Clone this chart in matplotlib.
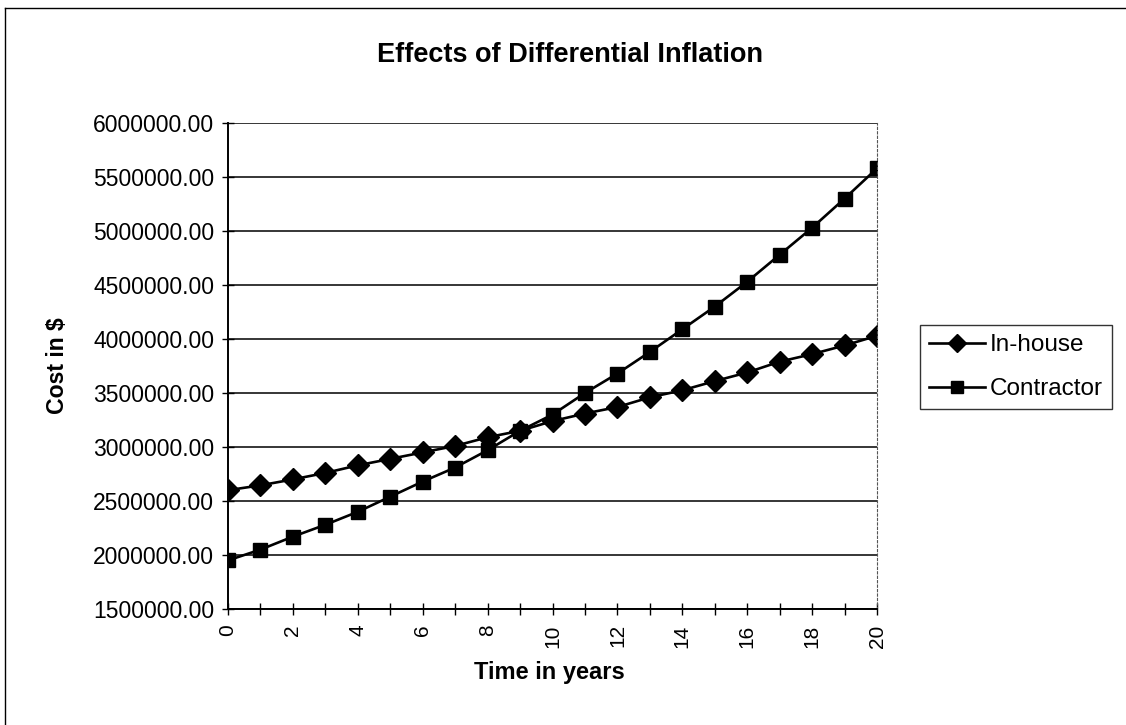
import matplotlib
matplotlib.use("Agg")
import matplotlib.pyplot as plt
from matplotlib.lines import Line2D
from matplotlib.ticker import MultipleLocator, FuncFormatter

years = list(range(0, 21))
in_house = [2600000, 2645000, 2700000, 2760000, 2830000, 2890000, 2950000, 3010000,
            3090000, 3150000, 3240000, 3310000, 3370000, 3460000, 3525000, 3610000,
            3690000, 3790000, 3860000, 3940000, 4030000]
contractor = [1950000, 2050000, 2170000, 2280000, 2400000, 2540000, 2680000, 2810000,
              2970000, 3150000, 3300000, 3500000, 3680000, 3880000, 4090000, 4300000,
              4530000, 4780000, 5030000, 5300000, 5580000]
series_names = ["In-house", "Contractor"]
title = "Effects of Differential Inflation"
xlabel = "Time in years"
ylabel = "Cost in $"

plt.rcParams['font.family'] = ['Liberation Sans', 'DejaVu Sans']

fig = plt.figure(figsize=(11.26, 7.25), dpi=100)
ax = fig.add_axes([228/1126, 1-609/725, (877-228)/1126, (609-123)/725])

ax.plot(years, in_house, color='black', lw=1.9, marker='D', markersize=11, label=series_names[0])
ax.plot(years, contractor, color='black', lw=1.9, marker='s', markersize=10.5, label=series_names[1])

ax.set_xlim(0, 20)
ax.set_ylim(1500000, 6000000)
ax.yaxis.set_major_locator(MultipleLocator(500000))
ax.yaxis.set_major_formatter(FuncFormatter(lambda v, p: f"{v:.2f}"))
ax.set_xticks(years)
ax.set_xticklabels([str(y) if y % 2 == 0 else "" for y in years], rotation=90)
ax.tick_params(axis='both', direction='inout', length=8, width=1, colors='black')
ax.tick_params(axis='y', labelsize=16.5, pad=6)
ax.tick_params(axis='x', labelsize=15, pad=7)
ax.grid(axis='y', color='black', lw=1.1)
ax.set_axisbelow(True)
for s in ['left', 'bottom']:
    ax.spines[s].set_linewidth(1.4)
ax.spines['top'].set_visible(False)
ax.spines['right'].set_linestyle((0, (2, 2)))
ax.spines['right'].set_color('#555555')
ax.spines['right'].set_linewidth(0.8)

fig.text(549/1126, 1-673/725, xlabel, ha='center', va='center', fontsize=17, fontweight='bold')
fig.text(57/1126, 1-366/725, ylabel, ha='center', va='center', fontsize=16.6, fontweight='bold', rotation=90)
fig.text(570/1126, 1-55/725, title, ha='center', va='center', fontsize=19.5, fontweight='bold')

leg = ax.legend(loc='upper left', bbox_to_anchor=(920/1126, 1-325/725), bbox_transform=fig.transFigure,
                frameon=True, fancybox=False, edgecolor='black', fontsize=17.5,
                handlelength=2.3, borderpad=0.38, labelspacing=0.9, handletextpad=0.2, borderaxespad=0)
leg.get_frame().set_linewidth(1)
for h in leg.legend_handles:
    h.set_markersize(9)

fig.add_artist(Line2D([5/1126, 5/1126], [0, 1-8/725], transform=fig.transFigure, color='black', lw=1))
fig.add_artist(Line2D([5/1126, 1], [1-8/725, 1-8/725], transform=fig.transFigure, color='black', lw=1))

fig.savefig("out.png", dpi=100)
